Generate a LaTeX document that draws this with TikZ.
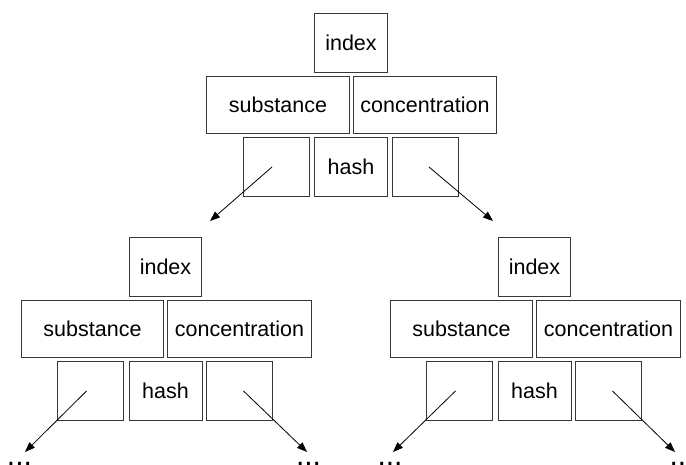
\documentclass[tikz,border=0pt]{standalone}
\usepackage{fontspec}
\setmainfont{Liberation Sans}
\usetikzlibrary{arrows.meta}

\tikzset{
  cell/.style={draw=black!78, line width=0.8pt, inner sep=0pt,
    minimum height=59pt, font=\fontsize{21.5}{24}\selectfont},
  keycell/.style={cell, minimum height=57.5pt},
  ptr/.style={draw=black, line width=0.8pt,
    -{Triangle[length=10pt,width=7.5pt]}},
  more/.style={anchor=base, inner sep=0pt, font=\fontsize{30}{30}\selectfont},
}

% One B-tree node: index cell, two key cells, two pointer cells and a hash cell.
% #1 = name prefix, #2 = x and #3 = y of the index cell's centre
\newcommand\btreeblock[3]{%
  \node[cell, minimum width=72.5pt] (#1idx) at (#2, #3) {index};
  \node[keycell, minimum width=142.5pt] (#1sub) at (#2-73, #3+62.5) {substance};
  \node[keycell, minimum width=143.5pt] (#1con) at (#2+74, #3+62.5) {concentration};
  \node[cell, minimum width=66pt] (#1l) at (#2-75, #3+124.5) {};
  \node[cell, minimum width=73pt] (#1h) at (#2, #3+124.5) {hash};
  \node[cell, minimum width=66pt] (#1r) at (#2+74, #3+124.5) {};
  \coordinate (#1ls) at (#2-79, #3+124.5);
  \coordinate (#1rs) at (#2+78, #3+124.5);
}

\begin{document}
\begin{tikzpicture}[x=1pt, y=-1pt]
  \useasboundingbox (0,0) rectangle (686,464);

  \btreeblock{t}{351}{42.5}
  \btreeblock{a}{165.5}{266.5}
  \btreeblock{b}{534.5}{266.5}

  % pointer targets
  \coordinate (tle) at (210,221);
  \coordinate (tre) at (493,221);
  \coordinate (ale) at (25,452);
  \coordinate (are) at (307,452);
  \coordinate (ble) at (393,452);
  \coordinate (bre) at (675,452);

  \draw[ptr] (tls) -- (tle);
  \draw[ptr] (trs) -- (tre);
  \draw[ptr] (als) -- (ale);
  \draw[ptr] (ars) -- (are);
  \draw[ptr] (bls) -- (ble);
  \draw[ptr] (brs) -- (bre);

  % continuation marks below the lower level
  \node[more] (m1) at (19.5,465) {...};
  \node[more] (m2) at (308.5,465) {...};
  \node[more] (m3) at (390,465) {...};
  \node[more] (m4) at (682,465) {...};
\end{tikzpicture}
\end{document}
